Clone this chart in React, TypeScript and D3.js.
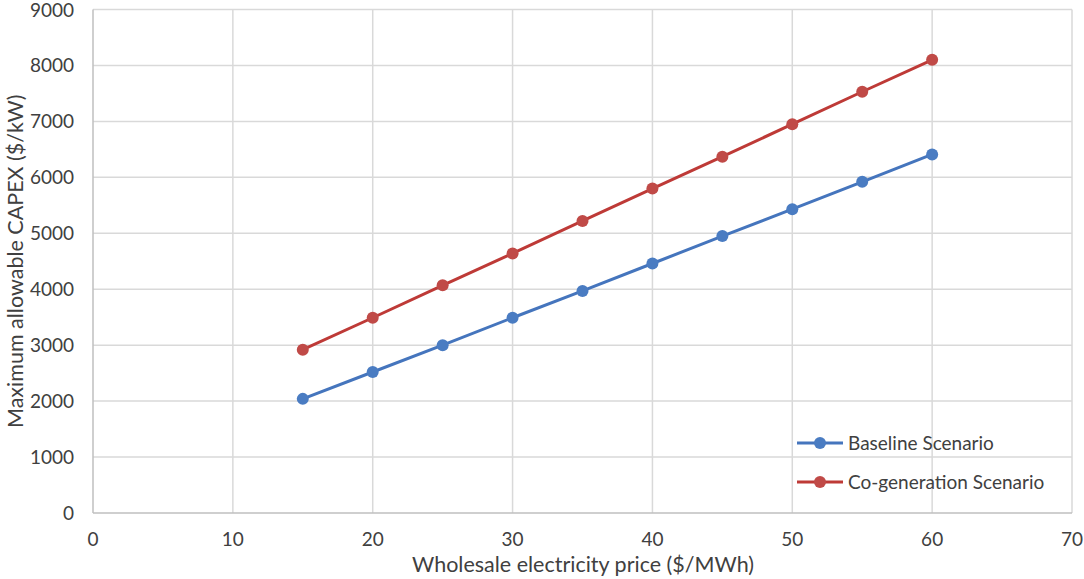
import React, { useEffect, useRef } from 'react';
import * as d3 from 'd3';

const prices = [15, 20, 25, 30, 35, 40, 45, 50, 55, 60];
const baseline = [2040, 2520, 3000, 3490, 3970, 4460, 4950, 5430, 5920, 6410];
const cogeneration = [2920, 3490, 4070, 4640, 5220, 5800, 6370, 6950, 7530, 8100];
const xTicks = [0, 10, 20, 30, 40, 50, 60, 70];
const yTicks = [0, 1000, 2000, 3000, 4000, 5000, 6000, 7000, 8000, 9000];

const seriesList = [
  { name: 'Baseline Scenario', values: baseline, line: '#4575BD', dot: '#4A7CC2' },
  { name: 'Co-generation Scenario', values: cogeneration, line: '#BE3A37', dot: '#C04A47' },
];

const W = 1084;
const H = 579;
const FONT = 'Lato, "Open Sans", sans-serif';

export default function App() {
  const svgRef = useRef<SVGSVGElement>(null);

  useEffect(() => {
    if (!svgRef.current) return;
    const svg = d3.select(svgRef.current);
    svg.selectAll('*').remove();

    const margin = { top: 9.5, right: 12, bottom: 66, left: 93 };
    const x = d3.scaleLinear().domain([0, 70]).range([margin.left, W - margin.right]);
    const y = d3.scaleLinear().domain([0, 9000]).range([H - margin.bottom, margin.top]);

    // gridlines
    svg.append('g')
      .selectAll('line')
      .data(xTicks.slice(1))
      .join('line')
      .attr('x1', d => x(d)).attr('x2', d => x(d))
      .attr('y1', y(0)).attr('y2', y(9000))
      .attr('stroke', '#D9D9D9').attr('stroke-width', 1.5);

    svg.append('g')
      .selectAll('line')
      .data(yTicks.slice(1))
      .join('line')
      .attr('x1', x(0)).attr('x2', x(70))
      .attr('y1', d => y(d)).attr('y2', d => y(d))
      .attr('stroke', '#D9D9D9').attr('stroke-width', 1.5);

    // axis lines
    svg.append('line')
      .attr('x1', x(0)).attr('x2', x(70)).attr('y1', y(0)).attr('y2', y(0))
      .attr('stroke', '#BFBFBF').attr('stroke-width', 1.5);
    svg.append('line')
      .attr('x1', x(0)).attr('x2', x(0)).attr('y1', y(0)).attr('y2', y(9000))
      .attr('stroke', '#BFBFBF').attr('stroke-width', 1.5);

    // tick labels
    svg.append('g')
      .selectAll('text')
      .data(xTicks)
      .join('text')
      .attr('x', d => x(d)).attr('y', y(0) + 33)
      .attr('text-anchor', 'middle')
      .attr('font-family', FONT).attr('font-size', 19).attr('fill', '#404040')
      .text(d => d);

    svg.append('g')
      .selectAll('text')
      .data(yTicks)
      .join('text')
      .attr('x', x(0) - 19).attr('y', d => y(d) + 7)
      .attr('text-anchor', 'end')
      .attr('font-family', FONT).attr('font-size', 19).attr('fill', '#404040')
      .text(d => d);

    // axis titles
    svg.append('text')
      .attr('x', 583).attr('y', 572)
      .attr('text-anchor', 'middle')
      .attr('font-family', FONT).attr('font-size', 21.5).attr('fill', '#404040')
      .text('Wholesale electricity price ($/MWh)');

    svg.append('text')
      .attr('transform', `translate(23,${(y(0) + y(9000)) / 2}) rotate(-90)`)
      .attr('text-anchor', 'middle')
      .attr('font-family', FONT).attr('font-size', 21.5).attr('fill', '#404040')
      .text('Maximum allowable CAPEX ($/kW)');

    const line = d3.line<number>()
      .x((_, i) => x(prices[i]))
      .y(d => y(d));

    seriesList.forEach(s => {
      svg.append('path')
        .datum(s.values)
        .attr('fill', 'none')
        .attr('stroke', s.line)
        .attr('stroke-width', 3)
        .attr('d', line);
      svg.append('g')
        .selectAll('circle')
        .data(s.values)
        .join('circle')
        .attr('cx', (_, i) => x(prices[i]))
        .attr('cy', d => y(d))
        .attr('r', 6)
        .attr('fill', s.dot);
    });

    // legend
    const legend = svg.append('g');
    seriesList.forEach((s, i) => {
      const ly = 443 + i * 39;
      legend.append('line')
        .attr('x1', 797).attr('x2', 843).attr('y1', ly).attr('y2', ly)
        .attr('stroke', s.line).attr('stroke-width', 3);
      legend.append('circle')
        .attr('cx', 820).attr('cy', ly).attr('r', 6).attr('fill', s.dot);
      legend.append('text')
        .attr('x', 848).attr('y', ly + 7)
        .attr('font-family', FONT).attr('font-size', 19).attr('fill', '#404040')
        .text(s.name);
    });
  }, []);

  return (
    <svg
      ref={svgRef}
      width={W}
      height={H}
      style={{ position: 'absolute', left: 0, top: 0, background: '#fff' }}
    />
  );
}
